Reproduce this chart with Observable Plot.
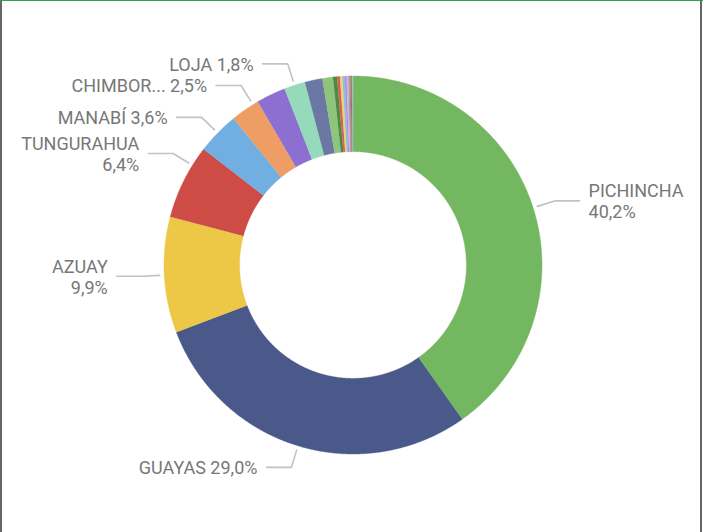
<!DOCTYPE html>
<html>
<head>
<meta charset="utf-8">
<script src="https://cdn.jsdelivr.net/npm/d3@7"></script>
<script src="https://cdn.jsdelivr.net/npm/@observablehq/plot@0.6"></script>
<style>
  html, body { margin: 0; padding: 0; background: #fff; }
  #wrap { position: relative; width: 703px; height: 532px; overflow: hidden; background: #fff; }
  #wrap svg { display: block; }
  .bl { position: absolute; top: 0; left: 0; width: 2px; height: 532px; background: #666; }
  .br { position: absolute; top: 0; left: 700px; width: 2px; height: 532px; background: #666; }
  .bt { position: absolute; top: 0; left: 0; width: 703px; height: 1px; background: #35a04a; }
</style>
</head>
<body>
<div id="wrap"></div>
<script>
// ---- data ----
const provinces = ["PICHINCHA","GUAYAS","AZUAY","TUNGURAHUA","MANABÍ","CHIMBORAZO","EL ORO","LOJA",
  "IMBABURA","SANTO DOMINGO","COTOPAXI","LOS RÍOS","ESMERALDAS","SANTA ELENA","CAÑAR","CARCHI",
  "SUCUMBÍOS","ORELLANA","MORONA SANTIAGO","NAPO","PASTAZA"];
const shares = [40.2, 29.0, 9.9, 6.4, 3.6, 2.5, 2.5, 1.8,
  1.5, 0.9, 0.35, 0.25, 0.2, 0.2, 0.15, 0.15,
  0.1, 0.1, 0.1, 0.05, 0.05];
const sliceColors = ["#73B761","#4A588A","#ECC846","#CD4C46","#71AFE2","#EE9E64","#8D6FD1","#95DABB",
  "#6B78A3","#8EC47B","#4F8A42","#D8605A","#F2D35E","#8FBDEB","#A48EE0","#C9B2EA",
  "#B69A7A","#8C8C8C","#B76A6A","#6E9A66","#A9C4DE"];
// visible data labels (Power BI hides the rest)
const labelNames = ["PICHINCHA","GUAYAS","AZUAY","TUNGURAHUA","MANABÍ","CHIMBOR...","","LOJA"];
const wrapped = ["PICHINCHA","AZUAY","TUNGURAHUA"];

// ---- layout ----
const W = 703, H = 532, cx = 352.5, cy = 264.5, R = 189, innerRatio = 0.6;
// where along each slice the leader line attaches (0.5 = middle)
const anchorFraction = {"TUNGURAHUA": 0.74, "CHIMBORAZO": 0.81};

const pie = d3.pie().sort(null).value(d => d)(shares);
const pt = (a, r) => ({x: r * Math.sin(a), y: r * Math.cos(a)});

const polys = [];
pie.forEach((s, i) => {
  const a0 = s.startAngle, a1 = s.endAngle;
  const n = Math.max(2, Math.ceil((a1 - a0) / (Math.PI / 720)));
  for (let k = 0; k <= n; k++) {
    const p = pt(a0 + (a1 - a0) * k / n, 1);
    polys.push({name: provinces[i], ...p});
  }
  for (let k = n; k >= 0; k--) {
    const p = pt(a0 + (a1 - a0) * k / n, innerRatio);
    polys.push({name: provinces[i], ...p});
  }
});

const fmt = v => v.toFixed(1).replace(".", ",") + "%";
const leaders = [], textsL = [], textsR = [];
pie.forEach((s, i) => {
  const lab = labelNames[i];
  if (!lab) return;
  const f = anchorFraction[provinces[i]] ?? 0.5;
  const a = s.startAngle + (s.endAngle - s.startAngle) * f;
  const right = Math.sin(a) >= 0;
  const p1 = pt(a, 1 + 4.5 / R), p2 = pt(a, 1 + 22.5 / R);
  const dir = right ? 1 : -1;
  const p3 = {x: p2.x + dir * 25 / R, y: p2.y};
  [p1, p2, p3].forEach(p => leaders.push({id: lab, ...p}));
  const text = lab + (wrapped.includes(lab) ? "\n" : " ") + fmt(shares[i]);
  const t = {text, x: p3.x + dir * 9 / R, y: p3.y};
  (right ? textsR : textsL).push(t);
});

const textOpts = {x: "x", y: "y", text: "text", lineAnchor: "middle", lineHeight: 1.17,
  fontSize: 18, fontFamily: "Roboto", fill: "#777"};

const chart = Plot.plot({
  width: W, height: H, margin: 0,
  style: {background: "transparent", overflow: "visible"},
  x: {domain: [-cx / R, (W - cx) / R], axis: null},
  y: {domain: [-(H - cy) / R, cy / R], axis: null},
  color: {domain: provinces, range: sliceColors},
  marks: [
    Plot.line(polys, {x: "x", y: "y", z: "name", fill: "name", stroke: "name", strokeWidth: 0.4, curve: "linear"}),
    Plot.line(leaders, {x: "x", y: "y", z: "id", stroke: "#c2c2c2", strokeWidth: 1.6, curve: "linear"}),
    Plot.text(textsR, {...textOpts, textAnchor: "start"}),
    Plot.text(textsL, {...textOpts, textAnchor: "end"})
  ]
});

const wrap = document.getElementById("wrap");
wrap.appendChild(chart);
for (const c of ["bl", "br", "bt"]) {
  const d = document.createElement("div"); d.className = c; wrap.appendChild(d);
}
</script>
</body>
</html>
